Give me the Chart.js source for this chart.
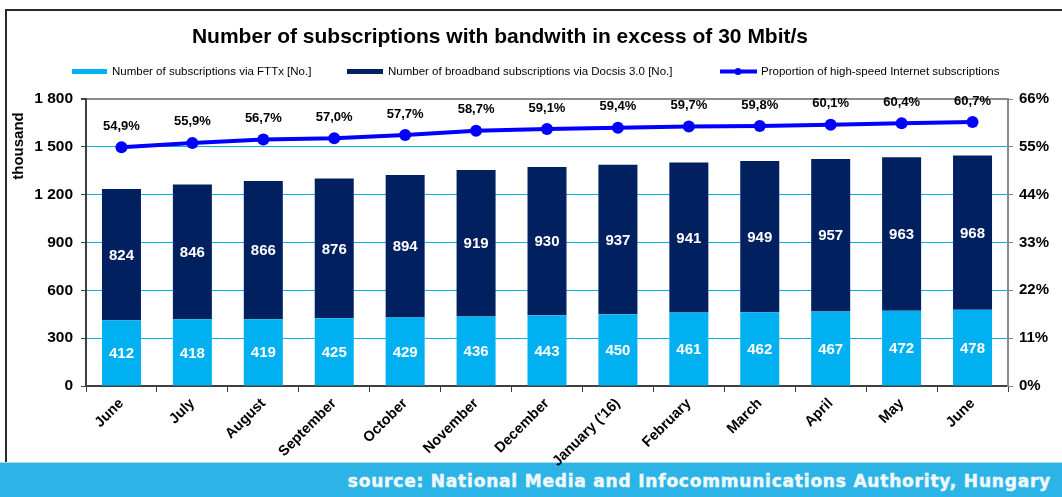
<!DOCTYPE html>
<html>
<head>
<meta charset="utf-8">
<script src="https://cdn.jsdelivr.net/npm/chart.js@4/dist/chart.umd.min.js"></script>
<style>
  html, body { margin: 0; padding: 0; background: #fff; }
  #page { position: relative; width: 1062px; height: 497px; overflow: hidden; background: #fff; }
  #frame {
    position: absolute; left: 5px; top: 9px; right: -4px; bottom: 30px;
    border-left: 2px solid #2a2a2a; border-top: 2px solid #2a2a2a;
  }
  #banner {
    position: absolute; left: 0; right: 0; top: 462px; height: 35px;
    background: #2db4e6; border-top: 1px solid #a9dff3;
    color: #eef8fd; font: bold 17px "DejaVu Sans", Verdana, sans-serif; letter-spacing: 0.8px;
    -webkit-text-stroke: 0.5px #eef8fd;
    text-align: right; line-height: 36px; padding-right: 11px; box-sizing: border-box;
  }
  #chartBox { position: absolute; left: 0; top: 0; width: 1062px; height: 497px; }
</style>
</head>
<body>
<div id="page">
  <div id="frame"></div>
  <div id="banner">source: National Media and Infocommunications Authority, Hungary</div>
  <div id="chartBox"><canvas id="chart"></canvas></div>
</div>
<script>
const months = ["June", "July", "August", "September", "October", "November", "December",
  "January ('16)", "February", "March", "April", "May", "June"];
const fttx = [412, 418, 419, 425, 429, 436, 443, 450, 461, 462, 467, 472, 478];
const docsis = [824, 846, 866, 876, 894, 919, 930, 937, 941, 949, 957, 963, 968];
const share = [54.9, 55.9, 56.7, 57.0, 57.7, 58.7, 59.1, 59.4, 59.7, 59.8, 60.1, 60.4, 60.7];

const FONT = '"Liberation Sans", Arial, sans-serif';
const CYAN = "#00b0f0";
const NAVY = "#002060";
const BLUE = "#0000ff";

const fmtThousands = (v) => String(v).replace(/\B(?=(\d{3})+(?!\d))/g, " ");
const fmtPct = (v) => v.toFixed(1).replace(".", ",") + "%";

// title, legend, axis caption and value labels
const decorations = {
  id: "decorations",
  afterDatasetsDraw(chart) {
    const ctx = chart.ctx;
    ctx.save();

    ctx.fillStyle = "#000";
    ctx.font = `bold 21px ${FONT}`;
    ctx.textAlign = "center";
    ctx.textBaseline = "middle";
    ctx.fillText("Number of subscriptions with bandwith in excess of 30 Mbit/s", 500, 37);

    // legend
    ctx.font = `11.5px ${FONT}`;
    ctx.textAlign = "left";
    ctx.fillStyle = CYAN;
    ctx.fillRect(72, 69, 35, 5);
    ctx.fillStyle = NAVY;
    ctx.fillRect(347, 69, 36, 5);
    ctx.strokeStyle = BLUE;
    ctx.lineWidth = 4;
    ctx.beginPath();
    ctx.moveTo(720, 71.5);
    ctx.lineTo(757, 71.5);
    ctx.stroke();
    ctx.fillStyle = BLUE;
    ctx.beginPath();
    ctx.arc(738, 71.5, 3.5, 0, Math.PI * 2);
    ctx.fill();
    ctx.fillStyle = "#000";
    ctx.fillText("Number of subscriptions via FTTx [No.]", 112, 72);
    ctx.fillText("Number of broadband subscriptions via Docsis 3.0 [No.]", 388, 72);
    ctx.fillText("Proportion of high-speed Internet subscriptions", 761, 72);

    // y axis caption
    ctx.save();
    ctx.translate(19, 146);
    ctx.rotate(-Math.PI / 2);
    ctx.textAlign = "center";
    ctx.font = `bold 15px ${FONT}`;
    ctx.fillText("thousand", 0, 0);
    ctx.restore();

    // values inside the stacked bars
    ctx.textAlign = "center";
    ctx.font = `bold 15px ${FONT}`;
    ctx.fillStyle = "#fff";
    [0, 1].forEach((di) => {
      const meta = chart.getDatasetMeta(di);
      const values = chart.data.datasets[di].data;
      meta.data.forEach((bar, i) => {
        ctx.fillText(String(values[i]), bar.x, (bar.y + bar.base) / 2 + 1);
      });
    });

    // percentages above the line
    ctx.font = `bold 13px ${FONT}`;
    ctx.fillStyle = "#000";
    chart.getDatasetMeta(2).data.forEach((pt, i) => {
      ctx.fillText(fmtPct(share[i]), pt.x, pt.y - 21);
    });
    ctx.restore();
  },
};

new Chart(document.getElementById("chart"), {
  data: {
    labels: months,
    datasets: [
      {
        type: "bar",
        label: "Number of subscriptions via FTTx [No.]",
        data: fttx,
        backgroundColor: CYAN,
        barPercentage: 0.55,
        categoryPercentage: 1,
        order: 1,
      },
      {
        type: "bar",
        label: "Number of broadband subscriptions via Docsis 3.0 [No.]",
        data: docsis,
        backgroundColor: NAVY,
        barPercentage: 0.55,
        categoryPercentage: 1,
        order: 1,
      },
      {
        type: "line",
        label: "Proportion of high-speed Internet subscriptions",
        data: share,
        yAxisID: "y1",
        borderColor: BLUE,
        backgroundColor: BLUE,
        borderWidth: 4,
        pointRadius: 6,
        pointBackgroundColor: BLUE,
        pointBorderWidth: 0,
        tension: 0,
        order: 0,
      },
    ],
  },
  options: {
    responsive: true,
    maintainAspectRatio: false,
    animation: false,
    layout: { padding: { top: 99, left: 0, right: 0, bottom: 0 } },
    plugins: {
      legend: { display: false },
      title: { display: false },
      tooltip: { enabled: false },
    },
    scales: {
      x: {
        stacked: true,
        afterFit: (scale) => { scale.height = 111; },
        grid: { drawOnChartArea: false, offset: true, tickLength: 6, tickColor: "#404040" },
        border: { color: "#404040", width: 2 },
        ticks: {
          color: "#000",
          font: { family: FONT, size: 14.5, weight: "bold" },
          maxRotation: 45,
          minRotation: 45,
          padding: 3,
          autoSkip: false,
        },
      },
      y: {
        stacked: true,
        position: "left",
        min: 0,
        max: 1800,
        afterFit: (scale) => { scale.width = 86; },
        ticks: {
          stepSize: 300,
          color: "#000",
          padding: 8,
          font: { family: FONT, size: 15.5, weight: "bold" },
          callback: (v) => fmtThousands(v),
        },
        grid: {
          color: (c) => (c.tick.value === 1800 ? "#8c8c8c" : c.tick.value === 0 ? "rgba(0,0,0,0)" : CYAN),
          lineWidth: (c) => (c.tick.value === 1800 ? 2 : 1),
          tickLength: 5,
          tickColor: "#404040",
        },
        border: { color: "#404040", width: 2 },
      },
      y1: {
        position: "right",
        min: 0,
        max: 66,
        afterFit: (scale) => { scale.width = 54; },
        ticks: {
          stepSize: 11,
          color: "#000",
          padding: 6,
          font: { family: FONT, size: 15, weight: "bold" },
          callback: (v) => v + "%",
        },
        grid: { drawOnChartArea: false, tickLength: 5, tickColor: "#808080" },
        border: { color: "#8c8c8c", width: 2 },
      },
    },
  },
  plugins: [decorations],
});
</script>
</body>
</html>
